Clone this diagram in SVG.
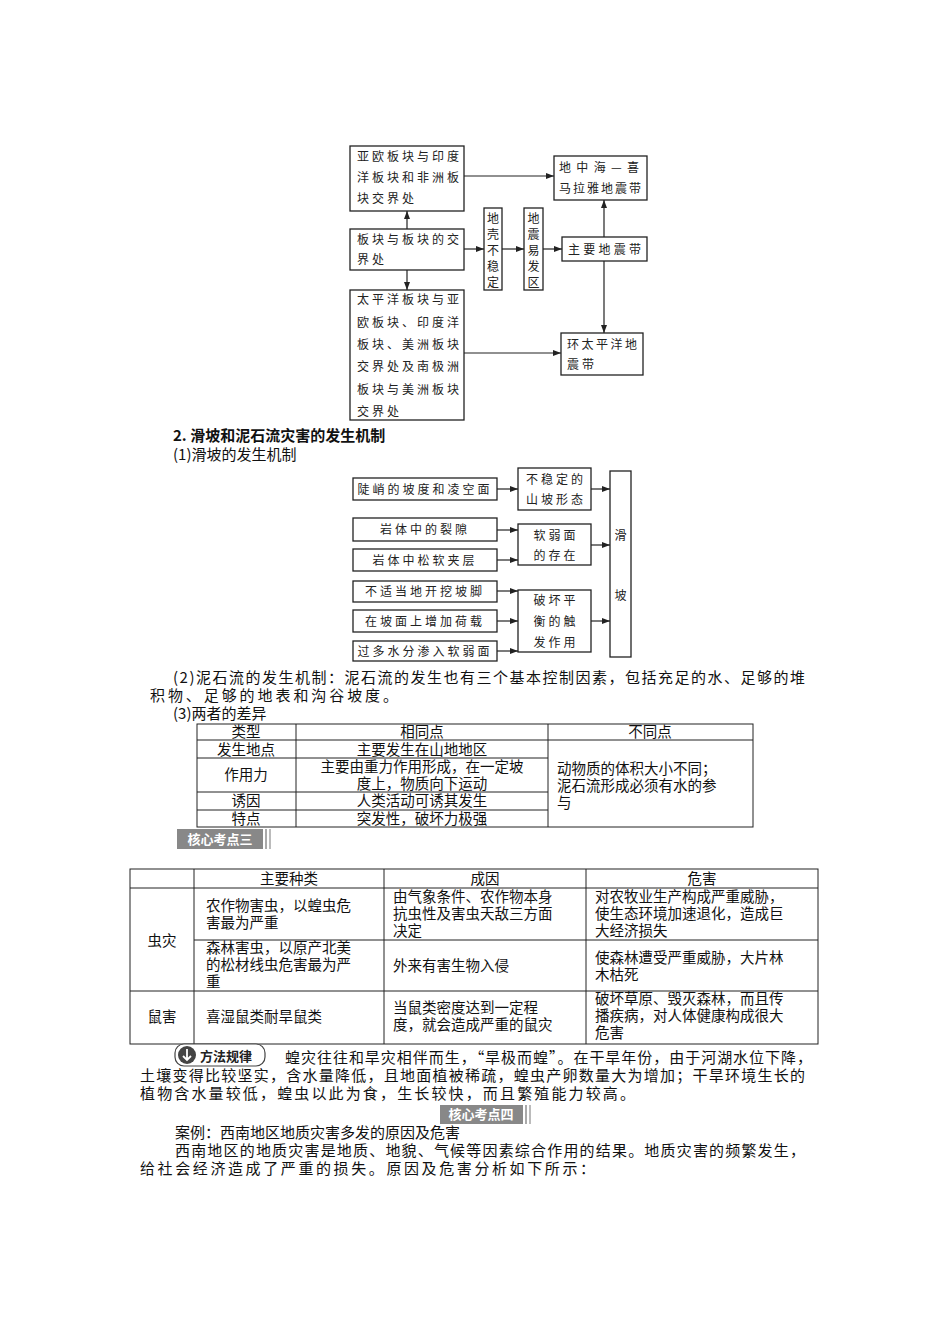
<svg xmlns="http://www.w3.org/2000/svg" width="950" height="1344" viewBox="0 0 950 1344">
<defs>
<marker id="ar" markerWidth="8" markerHeight="6" refX="8" refY="3" orient="auto" markerUnits="userSpaceOnUse"><path d="M0,0 L8,3 L0,6 z" fill="#222"/></marker>
</defs>
<style>
.b{fill:#fff;stroke:#222;stroke-width:1.3}
.t{font-family:"Noto Sans CJK SC",sans-serif;font-size:12px;fill:#222;letter-spacing:3px}
.p{font-family:"Noto Sans CJK SC",sans-serif;font-size:15px;fill:#111}
.s{font-size:14.5px}
.c{text-anchor:middle}
.l{stroke:#222;stroke-width:1.2;fill:none}
.g{stroke:#222;stroke-width:1;fill:none}
</style>
<rect width="950" height="1344" fill="#fff"/>
<g id="n1"><rect class="b" x="350" y="146" width="114" height="65"/><text class="t" x="357" y="161">亚欧板块与印度</text><text class="t" x="357" y="182">洋板块和非洲板</text><text class="t" x="357" y="203">块交界处</text></g>
<g id="n2"><rect class="b" x="350" y="229" width="114" height="41"/><text class="t" x="357" y="244">板块与板块的交</text><text class="t" x="357" y="264">界处</text></g>
<g id="n3"><rect class="b" x="350" y="290" width="114" height="130"/><text class="t" x="357" y="304">太平洋板块与亚</text><text class="t" x="357" y="327">欧板块、印度洋</text><text class="t" x="357" y="349">板块、美洲板块</text><text class="t" x="357" y="371">交界处及南极洲</text><text class="t" x="357" y="394">板块与美洲板块</text><text class="t" x="357" y="416">交界处</text></g>
<g id="n4"><rect class="b" x="484" y="208" width="18" height="82"/><text class="t c" x="493" y="223" style="letter-spacing:0">地</text><text class="t c" x="493" y="239" style="letter-spacing:0">壳</text><text class="t c" x="493" y="255" style="letter-spacing:0">不</text><text class="t c" x="493" y="271" style="letter-spacing:0">稳</text><text class="t c" x="493" y="287" style="letter-spacing:0">定</text></g>
<g id="n5"><rect class="b" x="524" y="208" width="19" height="82"/><text class="t c" x="533.5" y="223" style="letter-spacing:0">地</text><text class="t c" x="533.5" y="239" style="letter-spacing:0">震</text><text class="t c" x="533.5" y="255" style="letter-spacing:0">易</text><text class="t c" x="533.5" y="271" style="letter-spacing:0">发</text><text class="t c" x="533.5" y="287" style="letter-spacing:0">区</text></g>
<g id="n6"><rect class="b" x="554" y="156" width="93" height="44"/><text class="t" x="559" y="172" style="letter-spacing:0" textLength="80">地中海—喜</text><text class="t" x="559" y="193" style="letter-spacing:0" textLength="82">马拉雅地震带</text></g>
<g id="n7"><rect class="b" x="562" y="237" width="85" height="24"/><text class="t" x="568" y="254" style="letter-spacing:0" textLength="73">主要地震带</text></g>
<g id="n8"><rect class="b" x="561" y="333" width="82" height="42"/><text class="t" x="567" y="349" style="letter-spacing:0" textLength="70">环太平洋地</text><text class="t" x="567" y="369">震带</text></g>
<g id="connectors1">
<line class="l" x1="464" y1="176" x2="554" y2="176" marker-end="url(#ar)"/>
<line class="l" x1="464" y1="249" x2="484" y2="249" marker-end="url(#ar)"/>
<line class="l" x1="502" y1="249" x2="524" y2="249" marker-end="url(#ar)"/>
<line class="l" x1="543" y1="249" x2="562" y2="249" marker-end="url(#ar)"/>
<line class="l" x1="407" y1="229" x2="407" y2="211" marker-end="url(#ar)"/>
<line class="l" x1="407" y1="270" x2="407" y2="290" marker-end="url(#ar)"/>
<line class="l" x1="604" y1="237" x2="604" y2="200" marker-end="url(#ar)"/>
<line class="l" x1="604" y1="261" x2="604" y2="333" marker-end="url(#ar)"/>
<line class="l" x1="464" y1="353" x2="561" y2="353" marker-end="url(#ar)"/>
</g>
<text class="p" x="173" y="441" font-weight="bold">2.  滑坡和泥石流灾害的发生机制</text>
<text class="p" x="173" y="460">(1)滑坡的发生机制</text>
<g id="m1"><rect class="b" x="353" y="478" width="144" height="22"/><text class="t c" x="425" y="494">陡峭的坡度和凌空面</text></g>
<g id="m2"><rect class="b" x="518" y="468" width="73" height="42"/><text class="t c" x="556" y="484">不稳定的</text><text class="t c" x="556" y="504">山坡形态</text></g>
<g id="m3"><rect class="b" x="353" y="518" width="144" height="23"/><text class="t c" x="425" y="534">岩体中的裂隙</text></g>
<g id="m4"><rect class="b" x="353" y="549" width="144" height="22"/><text class="t c" x="425" y="565">岩体中松软夹层</text></g>
<g id="m5"><rect class="b" x="518" y="524" width="73" height="41"/><text class="t c" x="556" y="540">软弱面</text><text class="t c" x="556" y="560">的存在</text></g>
<g id="m6"><rect class="b" x="353" y="581" width="144" height="21"/><text class="t c" x="425" y="596">不适当地开挖坡脚</text></g>
<g id="m7"><rect class="b" x="353" y="610" width="144" height="22"/><text class="t c" x="425" y="626">在坡面上增加荷载</text></g>
<g id="m8"><rect class="b" x="353" y="641" width="144" height="20"/><text class="t c" x="425" y="656">过多水分渗入软弱面</text></g>
<g id="m9"><rect class="b" x="518" y="590" width="73" height="62"/><text class="t c" x="556" y="605">破坏平</text><text class="t c" x="556" y="626">衡的触</text><text class="t c" x="556" y="647">发作用</text></g>
<g id="m10"><rect class="b" x="610" y="471" width="21" height="186"/><text class="t c" x="620.5" y="540" style="letter-spacing:0">滑</text><text class="t c" x="620.5" y="600" style="letter-spacing:0">坡</text></g>
<g id="connectors2">
<line class="l" x1="497" y1="489" x2="518" y2="489" marker-end="url(#ar)"/>
<line class="l" x1="497" y1="530" x2="518" y2="530" marker-end="url(#ar)"/>
<line class="l" x1="497" y1="560" x2="518" y2="560" marker-end="url(#ar)"/>
<line class="l" x1="497" y1="591" x2="518" y2="591" marker-end="url(#ar)"/>
<line class="l" x1="497" y1="621" x2="518" y2="621" marker-end="url(#ar)"/>
<line class="l" x1="497" y1="651" x2="518" y2="651" marker-end="url(#ar)"/>
<line class="l" x1="591" y1="489" x2="610" y2="489" marker-end="url(#ar)"/>
<line class="l" x1="591" y1="545" x2="610" y2="545" marker-end="url(#ar)"/>
<line class="l" x1="591" y1="621" x2="610" y2="621" marker-end="url(#ar)"/>
</g>
<text class="p" x="173" y="683" textLength="632">(2)泥石流的发生机制：泥石流的发生也有三个基本控制因素，包括充足的水、足够的堆</text>
<text class="p" x="150" y="701" textLength="248">积物、足够的地表和沟谷坡度。</text>
<text class="p" x="173" y="719">(3)两者的差异</text>
<g id="table1">
<rect class="g" x="197" y="724" width="556" height="103"/>
<line class="g" x1="197" y1="740" x2="753" y2="740"/>
<line class="g" x1="197" y1="758" x2="548" y2="758"/>
<line class="g" x1="197" y1="792" x2="548" y2="792"/>
<line class="g" x1="197" y1="810" x2="548" y2="810"/>
<line class="g" x1="296" y1="724" x2="296" y2="827"/>
<line class="g" x1="548" y1="724" x2="548" y2="827"/>
<text class="p s c" x="246" y="737">类型</text><text class="p s c" x="422" y="737">相同点</text><text class="p s c" x="650" y="737">不同点</text>
<text class="p s c" x="246" y="755">发生地点</text><text class="p s c" x="422" y="755">主要发生在山地地区</text>
<text class="p s c" x="246" y="780">作用力</text><text class="p s c" x="422" y="772">主要由重力作用形成，在一定坡</text><text class="p s c" x="422" y="789">度上，物质向下运动</text>
<text class="p s c" x="246" y="806">诱因</text><text class="p s c" x="422" y="806">人类活动可诱其发生</text>
<text class="p s c" x="246" y="824">特点</text><text class="p s c" x="422" y="824">突发性，破坏力极强</text>
<text class="p s" x="557" y="774">动物质的体积大小不同；</text><text class="p s" x="557" y="791">泥石流形成必须有水的参</text><text class="p s" x="557" y="808">与</text>
</g>
<g id="label3"><rect x="177" y="829" width="86" height="20" fill="#888"/><rect x="265" y="829" width="2" height="20" fill="#aaa"/><rect x="269" y="829" width="2" height="20" fill="#bbb"/><text x="220" y="844" font-family="Noto Sans CJK SC,sans-serif" font-size="13" font-weight="bold" fill="#fff" text-anchor="middle">核心考点三</text></g>
<g id="table2">
<rect class="g" x="130" y="869" width="688" height="175"/>
<line class="g" x1="130" y1="888" x2="818" y2="888"/>
<line class="g" x1="194" y1="940" x2="818" y2="940"/>
<line class="g" x1="130" y1="991" x2="818" y2="991"/>
<line class="g" x1="194" y1="869" x2="194" y2="1044"/>
<line class="g" x1="384" y1="869" x2="384" y2="1044"/>
<line class="g" x1="586" y1="869" x2="586" y2="1044"/>
<text class="p s c" x="289" y="884">主要种类</text><text class="p s c" x="485" y="884">成因</text><text class="p s c" x="702" y="884">危害</text>
<text class="p s c" x="162" y="946">虫灾</text><text class="p s c" x="162" y="1022">鼠害</text>
<text class="p s" x="206" y="911">农作物害虫，以蝗虫危</text><text class="p s" x="206" y="928">害最为严重</text>
<text class="p s" x="393" y="902">由气象条件、农作物本身</text><text class="p s" x="393" y="919">抗虫性及害虫天敌三方面</text><text class="p s" x="393" y="936">决定</text>
<text class="p s" x="595" y="902">对农牧业生产构成严重威胁，</text><text class="p s" x="595" y="919">使生态环境加速退化，造成巨</text><text class="p s" x="595" y="936">大经济损失</text>
<text class="p s" x="206" y="953">森林害虫，以原产北美</text><text class="p s" x="206" y="970">的松材线虫危害最为严</text><text class="p s" x="206" y="987">重</text>
<text class="p s" x="393" y="971">外来有害生物入侵</text>
<text class="p s" x="595" y="963">使森林遭受严重威胁，大片林</text><text class="p s" x="595" y="980">木枯死</text>
<text class="p s" x="206" y="1022">喜湿鼠类耐旱鼠类</text>
<text class="p s" x="393" y="1013">当鼠类密度达到一定程</text><text class="p s" x="393" y="1030">度，就会造成严重的鼠灾</text>
<text class="p s" x="595" y="1004">破坏草原、毁灭森林，而且传</text><text class="p s" x="595" y="1021">播疾病，对人体健康构成很大</text><text class="p s" x="595" y="1038">危害</text>
</g>
<g id="badge"><rect x="175" y="1044" width="90" height="22" rx="9" fill="#fff" stroke="#444" stroke-width="1.2"/><circle cx="187" cy="1055" r="9" fill="#444"/><path d="M187,1049 L187,1060 M183,1056 L187,1060 L191,1056" stroke="#fff" stroke-width="1.8" fill="none"/><text x="200" y="1061" font-family="Noto Sans CJK SC,sans-serif" font-size="13" font-weight="bold" fill="#222">方法规律</text></g>
<text class="p" x="285" y="1063" textLength="527">蝗灾往往和旱灾相伴而生，“旱极而蝗”。在干旱年份，由于河湖水位下降，</text>
<text class="p" x="140" y="1081" textLength="665">土壤变得比较坚实，含水量降低，且地面植被稀疏，蝗虫产卵数量大为增加；干旱环境生长的</text>
<text class="p" x="140" y="1099" textLength="495">植物含水量较低，蝗虫以此为食，生长较快，而且繁殖能力较高。</text>
<g id="label4"><rect x="440" y="1105" width="83" height="19" fill="#888"/><rect x="525" y="1105" width="2" height="19" fill="#aaa"/><rect x="529" y="1105" width="2" height="19" fill="#bbb"/><text x="481" y="1119" font-family="Noto Sans CJK SC,sans-serif" font-size="13" font-weight="bold" fill="#fff" text-anchor="middle">核心考点四</text></g>
<text class="p" x="175" y="1138">案例：西南地区地质灾害多发的原因及危害</text>
<text class="p" x="175" y="1156" textLength="630">西南地区的地质灾害是地质、地貌、气候等因素综合作用的结果。地质灾害的频繁发生，</text>
<text class="p" x="140" y="1174" textLength="455">给社会经济造成了严重的损失。原因及危害分析如下所示：</text>
</svg>
